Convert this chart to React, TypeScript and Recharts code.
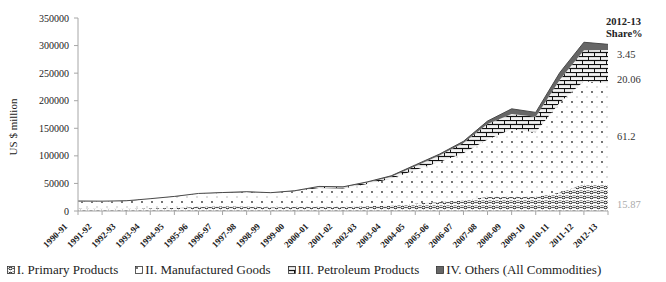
import React from "react";
import { Area, AreaChart, Legend, XAxis, YAxis } from "recharts";

const YEARS = [
  "1990-91", "1991-92", "1992-93", "1993-94", "1994-95", "1995-96", "1996-97", "1997-98",
  "1998-99", "1999-00", "2000-01", "2001-02", "2002-03", "2003-04", "2004-05", "2005-06",
  "2006-07", "2007-08", "2008-09", "2009-10", "2010-11", "2011-12", "2012-13",
];

// US $ million
const PRIMARY = [4400, 4100, 4100, 4900, 5500, 7600, 8500, 8300, 6900, 7100, 7600, 7400, 8700, 9900, 13600, 16400, 19700, 25900, 25300, 25800, 33600, 48300, 47700];
const MANUFACTURED = [12800, 13000, 13900, 16900, 20400, 23600, 24300, 26100, 25800, 28700, 34300, 33400, 40200, 48500, 60700, 72600, 84900, 103600, 123100, 117000, 163000, 187000, 183800];
const PETROLEUM = [520, 420, 480, 400, 420, 450, 480, 350, 90, 40, 1870, 2120, 2580, 3570, 6990, 11600, 18600, 28400, 27500, 28200, 41500, 56000, 60300];
const OTHERS = [420, 350, 60, 120, 110, 150, 190, 260, 430, 980, 790, 900, 1240, 1870, 2250, 2500, 3200, 5200, 9400, 7800, 13000, 14700, 10400];

const Y_TICKS = [0, 50000, 100000, 150000, 200000, 250000, 300000, 350000];
const SHARES = ["3.45", "20.06", "61.2", "15.87"];

const SERIES = [
  { key: "primary", name: "I. Primary Products", fill: "url(#patPrimary)", stroke: "none" },
  { key: "manufactured", name: "II. Manufactured Goods", fill: "url(#patManuf)", stroke: "none" },
  { key: "petroleum", name: "III. Petroleum Products", fill: "url(#patPetrol)", stroke: "none" },
  { key: "others", name: "IV. Others (All Commodities)", fill: "#666", stroke: "#4a4a4a" },
];

const data = YEARS.map((year, i) => ({
  year,
  primary: PRIMARY[i],
  manufactured: MANUFACTURED[i],
  petroleum: PETROLEUM[i],
  others: OTHERS[i],
}));

const FONT = "'Liberation Serif', 'Times New Roman', serif";

function XTick({ x, y, payload }: any) {
  const px = x - 10;
  const py = y + 10;
  return (
    <text x={px} y={py} transform={`rotate(-45 ${px} ${py})`} textAnchor="end" fontSize={9} fontWeight="bold" fontFamily={FONT} fill="#222">
      {payload.value}
    </text>
  );
}

function LegendContent() {
  return (
    <div style={{ display: "flex", justifyContent: "center", gap: 17, height: 18, alignItems: "center", fontFamily: FONT, fontSize: 13, color: "#222", whiteSpace: "nowrap" }}>
      {SERIES.map((s) => (
        <span key={s.key} style={{ display: "inline-flex", alignItems: "center" }}>
          <svg width={8} height={8} style={{ marginRight: 2 }}>
            <rect x={0.5} y={0.5} width={7} height={7} fill={s.fill} stroke="#333" strokeWidth={0.8} />
          </svg>
          {s.name}
        </span>
      ))}
    </div>
  );
}

function YLabel() {
  return (
    <text x={14} y={127} transform="rotate(-90 14 127)" textAnchor="middle" dominantBaseline="middle" fontSize={11} fontFamily={FONT} fill="#222">
      US $ million
    </text>
  );
}

export default function App() {
  return (
    <div style={{ position: "absolute", left: 0, top: 0, width: 666, height: 282, background: "#fff" }}>
      <AreaChart width={666} height={282} data={data} margin={{ top: 18, right: 58, left: 0, bottom: 3 }}>
        <defs>
          <pattern id="patPrimary" width={7} height={5} patternUnits="userSpaceOnUse">
            <rect width={7} height={5} fill="#fff" />
            <ellipse cx={3.5} cy={2.5} rx={1.7} ry={1.2} fill="none" stroke="#111" strokeWidth={1} />
            <line x1={0} y1={0} x2={1.5} y2={0} stroke="#333" strokeWidth={1} />
            <line x1={5.5} y1={0} x2={7} y2={0} stroke="#333" strokeWidth={1} />
            <circle cx={0} cy={2.5} r={0.8} fill="#111" />
            <circle cx={7} cy={2.5} r={0.8} fill="#111" />
          </pattern>
          <pattern id="patManuf" width={10} height={10} patternUnits="userSpaceOnUse">
            <rect width={10} height={10} fill="#fff" />
            <circle cx={2} cy={2} r={0.9} fill="#333" />
            <circle cx={7} cy={7} r={0.7} fill="#aaa" />
          </pattern>
          <pattern id="patPetrol" width={12} height={8} patternUnits="userSpaceOnUse">
            <rect width={12} height={8} fill="#f2f2f2" />
            <line x1={0} y1={0.5} x2={12} y2={0.5} stroke="#111" strokeWidth={1.2} />
            <line x1={0} y1={4.5} x2={12} y2={4.5} stroke="#111" strokeWidth={1.2} />
            <line x1={0.5} y1={0} x2={0.5} y2={4.5} stroke="#111" strokeWidth={1} />
            <line x1={6.5} y1={4.5} x2={6.5} y2={8} stroke="#111" strokeWidth={1} />
          </pattern>
        </defs>
        <XAxis
          dataKey="year"
          interval={0}
          height={50}
          tick={<XTick />}
          tickSize={4}
          tickMargin={2}
          axisLine={{ stroke: "#a6a6a6" }}
          tickLine={{ stroke: "#a6a6a6" }}
        />
        <YAxis
          width={78}
          domain={[0, 350000]}
          ticks={Y_TICKS}
          interval={0}
          tickSize={4}
          tickMargin={5}
          tick={{ fontSize: 10, fontFamily: FONT, fill: "#222" }}
          axisLine={{ stroke: "#a6a6a6" }}
          tickLine={{ stroke: "#a6a6a6" }}
          label={<YLabel />}
        />
        <Legend verticalAlign="bottom" content={<LegendContent />} />
        {SERIES.map((s) => (
          <Area
            key={s.key}
            type="linear"
            dataKey={s.key}
            name={s.name}
            stackId="1"
            fill={s.fill}
            fillOpacity={1}
            stroke={s.stroke}
            strokeWidth={1}
            isAnimationActive={false}
            dot={false}
            activeDot={false}
          />
        ))}
      </AreaChart>
      <div style={{ position: "absolute", left: 606, top: 16, fontFamily: FONT, fontSize: 10.5, fontWeight: "bold", lineHeight: "12px", color: "#222" }}>
        2012-13
        <br />
        Share%
      </div>
      <div style={{ position: "absolute", left: 617, top: 49, fontFamily: FONT, fontSize: 10.5, color: "#333" }}>{SHARES[0]}</div>
      <div style={{ position: "absolute", left: 617, top: 74, fontFamily: FONT, fontSize: 10.5, color: "#333" }}>{SHARES[1]}</div>
      <div style={{ position: "absolute", left: 617, top: 131, fontFamily: FONT, fontSize: 10.5, color: "#333" }}>{SHARES[2]}</div>
      <div style={{ position: "absolute", left: 617, top: 199, fontFamily: FONT, fontSize: 10.5, color: "#aaa" }}>{SHARES[3]}</div>
    </div>
  );
}
